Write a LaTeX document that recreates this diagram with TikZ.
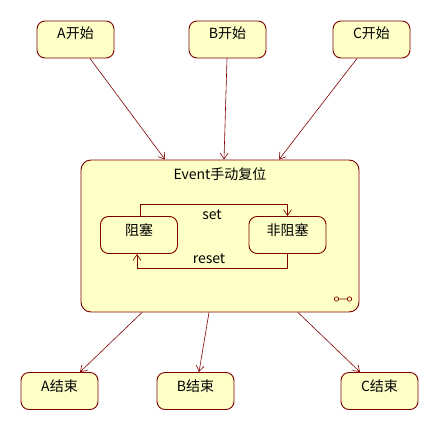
\documentclass[tikz,border=0pt]{standalone}
\usepackage{fontspec}
\setmainfont{Noto Sans CJK SC}
\usetikzlibrary{arrows.meta,calc}
\definecolor{bordc}{RGB}{128,0,0}
\definecolor{fillc}{RGB}{255,255,200}
\tikzset{
  stbox/.style={draw=bordc, fill=fillc, line width=0.9pt, rounded corners=8pt,
    minimum width=77pt, minimum height=37pt, inner sep=0pt},
  lbl/.style={font=\fontsize{14}{16}\selectfont, inner sep=0pt},
  arr/.style={draw=bordc, line width=0.6pt, -{Straight Barb[length=6pt,width=8pt,line width=0.6pt]}},
}
\begin{document}
\begin{tikzpicture}[x=1pt,y=-1pt]
\useasboundingbox (0,0) rectangle (439,431);
% top states
\node[stbox] (as) at (75.5,39.5) {};
\node[stbox] (bs) at (227.5,39.5) {};
\node[stbox] (cs) at (371.5,39.5) {};
\node[lbl] (ast) at (75.5,33) {A开始};
\node[lbl] (bst) at (227.5,33) {B开始};
\node[lbl] (cst) at (371.5,33) {C开始};
% composite
\node[stbox, rounded corners=10pt, minimum width=278pt, minimum height=152pt] (ev) at (220,236) {};
\node[lbl] (evt) at (220,174) {Event手动复位};
% inner states
\node[stbox] (zu) at (139,235) {};
\node[stbox] (fzu) at (287.5,235) {};
\node[lbl] (zut) at (139,230) {阻塞};
\node[lbl] (fzut) at (287.5,230) {非阻塞};
\draw[arr] ([xshift=1pt]zu.north) -- ++(0,-12) -| (fzu.north);
\draw[arr] (fzu.south) -- ++(0,14) -| ([xshift=-2pt]zu.south);
\node[lbl] (setl) at (212,215) {set};
\node[lbl] (resetl) at (209,259) {reset};
% icon
\draw[bordc, line width=0.7pt] (336.5,299) circle (2.2pt) (349.5,299) circle (2.2pt) (338.7,299) -- (347.3,299);
% bottom states
\node[stbox] (ae) at (59.5,391) {};
\node[stbox] (be) at (195.5,391) {};
\node[stbox] (ce) at (379.5,391) {};
\node[lbl] (aet) at (59.5,386) {A结束};
\node[lbl] (bet) at (195.5,386) {B结束};
\node[lbl] (cet) at (379.5,386) {C结束};
% connectors
\draw[arr] ([xshift=14.5pt]as.south) -- ([xshift=-55pt]ev.north);
\draw[arr] ([xshift=-0.5pt]bs.south) -- ([xshift=4pt]ev.north);
\draw[arr] ([xshift=-14.5pt]cs.south) -- ([xshift=59pt]ev.north);
\draw[arr] ([xshift=-78pt]ev.south) -- ([xshift=20.5pt]ae.north);
\draw[arr] ([xshift=-11pt]ev.south) -- ([xshift=3.5pt]be.north);
\draw[arr] ([xshift=78pt]ev.south) -- ([xshift=-19.5pt]ce.north);
\end{tikzpicture}
\end{document}
